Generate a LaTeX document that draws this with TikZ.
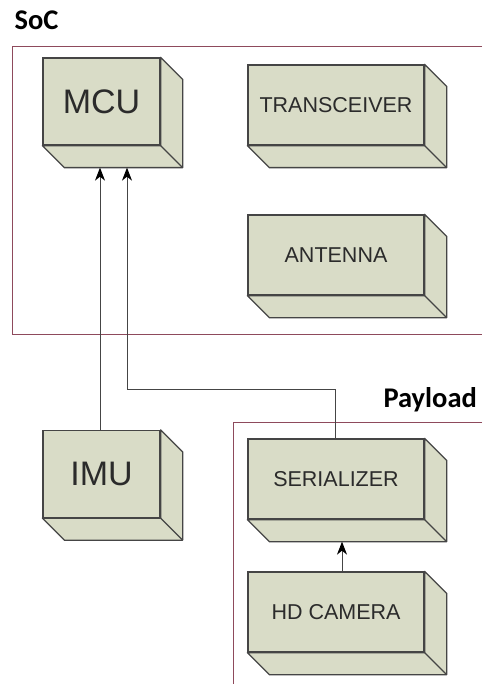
\documentclass[tikz,border=0pt]{standalone}
\usepackage{fontspec}
\setmainfont{Liberation Sans}
\newfontfamily\lblfont{Carlito}
\usetikzlibrary{arrows.meta}
\definecolor{boxfill}{HTML}{D9DCC7}
\definecolor{boxline}{HTML}{454545}
\definecolor{grpline}{HTML}{8E4A5C}
\definecolor{txt}{HTML}{2B2B2B}
\tikzset{
  cube/.style={draw=boxline, fill=boxfill, line width=1.3pt, inner sep=0pt, text=txt},
  bigcube/.style={cube, minimum width=117pt, minimum height=87pt, font=\fontsize{34}{36}\selectfont},
  widecube/.style={cube, minimum width=176pt, minimum height=80pt, font=\fontsize{21.5}{24}\selectfont},
  grp/.style={draw=grpline, line width=0.9pt},
  grplabel/.style={anchor=base west, font=\lblfont\bfseries\fontsize{28.5}{30}\selectfont, text=black},
  arr/.style={draw=boxline, line width=0.9pt, -{Stealth[length=13pt,width=10pt,inset=4pt,color=black]}},
}
\begin{document}
\begin{tikzpicture}[x=1pt,y=-1pt]
\useasboundingbox (0,0) rectangle (482,684);
\fill[white] (0,0) rectangle (482,684);
% groups
\draw[grp] (482,46) -- (12,46) -- (12,334) -- (482,334);
\draw[grp] (482,422) -- (233,422) -- (233,684);
\node[grplabel] (soclbl) at (11,30) {SoC};
\node[grplabel] (paylbl) at (380,407) {Payload};
% boxes
\node[bigcube] (mcu) at (101.5,101.5) {MCU};
\node[bigcube] (imu) at (101.5,474) {IMU};
\node[widecube] (trx) at (336,105) {TRANSCEIVER};
\node[widecube] (ant) at (336,255) {ANTENNA};
\node[widecube] (ser) at (336,479) {SERIALIZER};
\node[widecube] (cam) at (336,612) {HD CAMERA};
\foreach \n in {mcu,imu,trx,ant,ser,cam}{
  \draw[cube, line join=round] (\n.north east) -- ++(22,22) -- ([shift={(22pt,-22pt)}]\n.south east)
     -- ([shift={(22pt,-22pt)}]\n.south west) -- (\n.south west) -- (\n.south east) -- cycle;
  \draw[draw=boxline, line width=1.3pt] (\n.south east) -- ++(22,22);
}
% connectors
\coordinate (bend) at (127,389);
\draw[arr] ([xshift=-1.5pt]imu.north) -- ([shift={(-1.5pt,-22pt)}]mcu.south);
\draw[arr] ([xshift=-1pt]ser.north) |- (bend) -- ([shift={(25.5pt,-22pt)}]mcu.south);
\draw[arr] ([xshift=6pt]cam.north) -- ([shift={(6pt,-22pt)}]ser.south);
\end{tikzpicture}
\end{document}
